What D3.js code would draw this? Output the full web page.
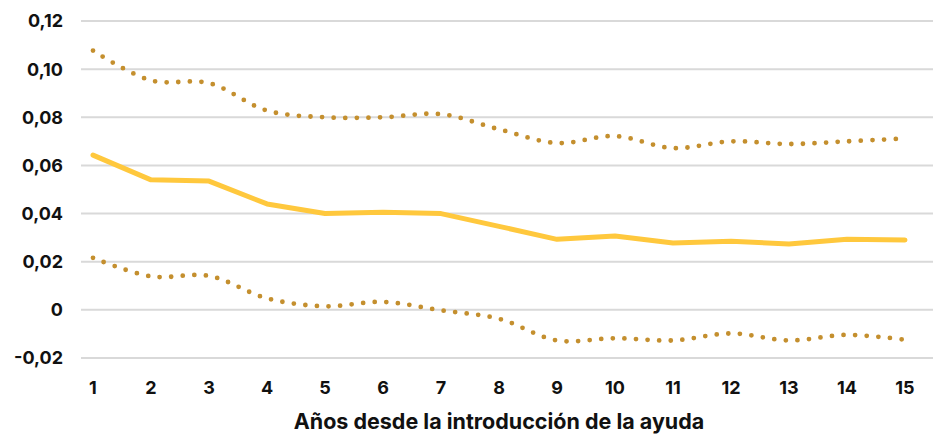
<!DOCTYPE html>
<html><head><meta charset="utf-8">
<script src="https://cdn.jsdelivr.net/npm/d3@7"></script>
<style>body{margin:0;background:#fff}svg{display:block}</style>
</head><body>
<svg id="c" width="938" height="437"></svg>
<script>
const years = [1,2,3,4,5,6,7,8,9,10,11,12,13,14,15];
const estimate = [0.0643,0.0540,0.0535,0.0440,0.0400,0.0405,0.0400,0.0347,0.0293,0.0307,0.0278,0.0285,0.0274,0.0293,0.0290];
const upper = [0.1077,0.0953,0.0942,0.0828,0.0800,0.0800,0.0813,0.0750,0.0693,0.0722,0.0672,0.0700,0.0689,0.0700,0.0712];
const lower = [0.0216,0.0139,0.0141,0.0048,0.0015,0.0033,-0.0002,-0.0037,-0.0127,-0.0118,-0.0127,-0.0098,-0.0127,-0.0104,-0.0124];
const yTicks = [-0.02,0,0.02,0.04,0.06,0.08,0.10,0.12];
const xTitle = "Años desde la introducción de la ayuda";

const svg = d3.select("#c");
const x = d3.scalePoint().domain(years).range([93,905]);
const y = d3.scaleLinear().domain([-0.02,0.12]).range([358,21]);
const fmt = v => v === 0 ? "0" : d3.format(".2f")(v).replace(".", ",").replace("−","-");
const FONT = "Inter, 'Open Sans', sans-serif";

svg.append("g").selectAll("line").data(yTicks).join("line")
  .attr("x1",81).attr("x2",933).attr("y1",d=>y(d)).attr("y2",d=>y(d))
  .attr("stroke","#d9d9d9").attr("stroke-width",2);

svg.append("g").selectAll("text").data(yTicks).join("text")
  .attr("x",63).attr("y",d=>y(d)).attr("dy","0.36em").attr("text-anchor","end")
  .attr("font-family",FONT).attr("font-weight",700).attr("font-size",18).attr("fill","#111")
  .text(fmt);

svg.append("g").selectAll("text").data(years).join("text")
  .attr("x",d=>x(d)).attr("y",388).attr("dy","0.36em").attr("text-anchor","middle")
  .attr("font-family",FONT).attr("font-weight",700).attr("font-size",18).attr("fill","#111")
  .text(d=>d);

svg.append("text").attr("x",499).attr("y",429).attr("text-anchor","middle")
  .attr("font-family",FONT).attr("font-weight",700).attr("font-size",21.5).attr("fill","#111")
  .text(xTitle);

const smooth = d3.line().x((d,i)=>x(years[i])).y(d=>y(d)).curve(d3.curveCatmullRom.alpha(0.5));
const straight = d3.line().x((d,i)=>x(years[i])).y(d=>y(d));

[upper, lower].forEach(s => {
  svg.append("path").attr("d", smooth(s)).attr("fill","none")
    .attr("stroke","#c48f2e").attr("stroke-width",4.8).attr("stroke-linecap","round")
    .attr("stroke-dasharray","0,11.6");
});
svg.append("path").attr("d", straight(estimate)).attr("fill","none")
  .attr("stroke","#ffc83d").attr("stroke-width",5).attr("stroke-linejoin","round").attr("stroke-linecap","round");
</script>
</body></html>
